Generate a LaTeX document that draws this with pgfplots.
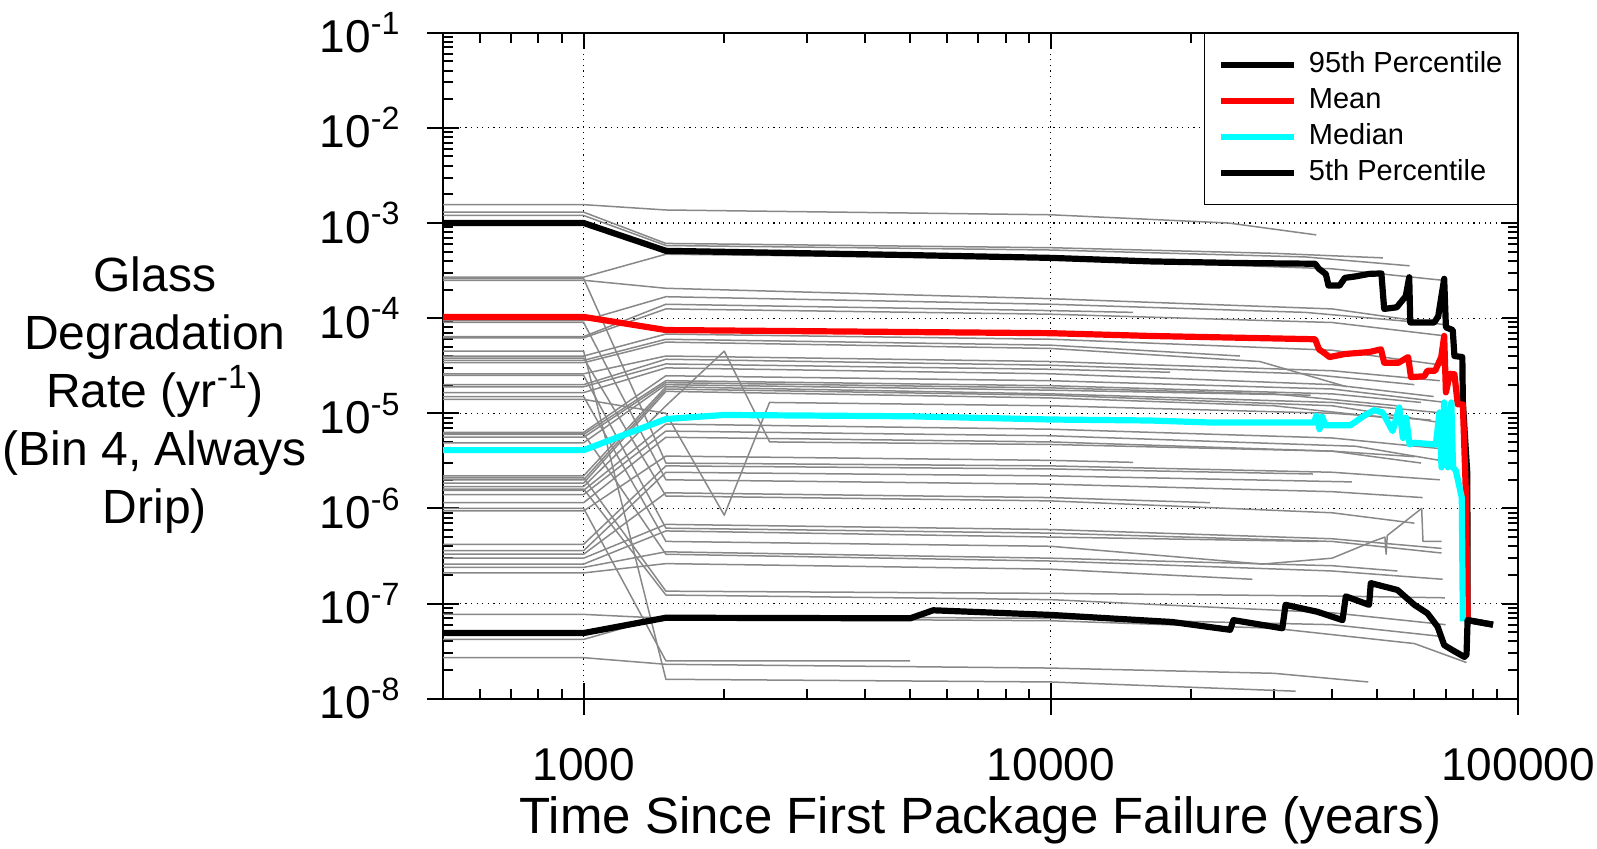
\documentclass[border=0pt]{standalone}
\usepackage{fontspec}
\setmainfont{Liberation Sans}
\usepackage{pgfplots}
\pgfplotsset{compat=1.18}
\definecolor{rgray}{RGB}{136,136,136}
\definecolor{mcyan}{RGB}{0,255,255}
\definecolor{mred}{RGB}{255,0,0}
\begin{document}
\begin{tikzpicture}
\path[use as bounding box] (-221.5pt,-74.65pt) rectangle (577pt,349.35pt);
\begin{axis}[
  at={(0pt,0pt)}, anchor=south west,
  width=537.5pt, height=333pt, scale only axis,
  xmode=log, ymode=log,
  xmin=500, xmax=100000, ymin=1e-8, ymax=1e-1,
  xtick={1000,10000,100000}, xticklabels={1000,10000,100000},
  minor xtick={600,700,800,900,2000,3000,4000,5000,6000,7000,8000,9000,20000,30000,40000,50000,60000,70000,80000,90000},
  ytick={1e-8,1e-7,1e-6,1e-5,1e-4,1e-3,1e-2,1e-1},
  yticklabels={10\textsuperscript{-8},10\textsuperscript{-7},10\textsuperscript{-6},10\textsuperscript{-5},10\textsuperscript{-4},10\textsuperscript{-3},10\textsuperscript{-2},10\textsuperscript{-1}},
  minor ytick={2e-8,3e-8,4e-8,5e-8,6e-8,7e-8,8e-8,9e-8,2e-7,3e-7,4e-7,5e-7,6e-7,7e-7,8e-7,9e-7,2e-6,3e-6,4e-6,5e-6,6e-6,7e-6,8e-6,9e-6,2e-5,3e-5,4e-5,5e-5,6e-5,7e-5,8e-5,9e-5,2e-4,3e-4,4e-4,5e-4,6e-4,7e-4,8e-4,9e-4,2e-3,3e-3,4e-3,5e-3,6e-3,7e-3,8e-3,9e-3,2e-2,3e-2,4e-2,5e-2,6e-2,7e-2,8e-2,9e-2},
  extra x ticks={1000,10000,100000}, extra x tick labels={},
  extra y ticks={1e-8,1e-7,1e-6,1e-5,1e-4,1e-3,1e-2,1e-1}, extra y tick labels={},
  extra tick style={tick align=outside, major tick length=8pt, grid=none, xtick pos=bottom, ytick pos=left},
  tick align=inside, major tick length=8pt, minor tick length=5pt,
  every tick/.style={black, line width=1pt},
  axis line style={black, line width=1.2pt},
  grid=major,
  major grid style={black, line width=0.6pt, dash pattern=on 0.6pt off 2.2pt},
  xticklabel style={font=\fontsize{23}{27}\selectfont, anchor=base, yshift=-40.7pt},
  yticklabel style={font=\fontsize{23}{27}\selectfont, anchor=east, inner sep=0pt, xshift=-21pt},
  every axis y label/.style={at={(axis description cs:-0.268,0.4566)}, anchor=center, align=center, font=\fontsize{24}{29}\selectfont},
  ylabel={Glass\\Degradation\\Rate (yr\textsuperscript{-1})\\(Bin 4, Always\\Drip)},
  every axis x label/.style={at={(axis description cs:0.5,0)}, anchor=base, yshift=-67.15pt, font=\fontsize{25.5}{30}\selectfont},
  xlabel={Time Since First Package Failure (years)},
  legend style={at={(1,1)}, anchor=north east, draw=black, line width=0.6pt, fill=white,
    inner xsep=6.5pt, inner ysep=8pt, row sep=2.5pt, column sep=5pt,
    font=\fontsize{14.5}{17}\selectfont,
    nodes={inner sep=1pt, text height=10.5pt, text depth=3pt}},
  legend cell align=left,
  legend image code/.code={\draw[#1] (0pt,0pt) -- (36.5pt,0pt);},
  gl/.style={color=rgray, line width=0.75pt, line join=round, forget plot},
  ml/.style={line width=3.1pt, line join=round},
]
% gray realizations
\addplot[gl] coordinates {(500,1.56e-3)(1000,1.56e-3)(1500,1.37e-3)(10000,1.22e-3)(24000,1.0e-3)(37000,7.5e-4)};
\addplot[gl] coordinates {(500,1.3e-3)(1000,1.3e-3)(1500,6.1e-4)(10000,5.5e-4)(30000,4.8e-4)(51400,4.3e-4)};
\addplot[gl] coordinates {(500,1.2e-3)(1000,1.2e-3)(1500,5.8e-4)(10000,5.2e-4)(35000,4.4e-4)(58600,3.55e-4)};
\addplot[gl] coordinates {(500,2.7e-4)(1000,2.7e-4)(1500,4.7e-4)(10000,4.2e-4)(40000,3.3e-4)(69000,2.5e-4)};
\addplot[gl] coordinates {(500,2.5e-4)(1000,2.5e-4)(1500,2.06e-4)(10000,1.6e-4)(40000,1.25e-4)(70000,8.5e-5)};
\addplot[gl] coordinates {(500,9.4e-5)(1000,9.4e-5)(1500,1.68e-4)(10000,1.4e-4)(35000,1.15e-4)(62000,9.0e-5)};
\addplot[gl] coordinates {(500,6.4e-5)(1000,6.4e-5)(1500,1.4e-4)(10000,1.2e-4)(15000,1.15e-4)};
\addplot[gl] coordinates {(500,6.2e-5)(1000,6.2e-5)(1500,1.25e-4)(10000,1.1e-4)(40000,9.0e-5)(70000,6.5e-5)};
\addplot[gl] coordinates {(500,4.0e-5)(1000,4.0e-5)(1500,6.8e-5)(10000,6.0e-5)(40000,4.6e-5)(69000,3.2e-5)};
\addplot[gl] coordinates {(500,3.6e-5)(1000,3.6e-5)(1500,6.0e-5)(10000,5.2e-5)(25400,4.0e-5)};
\addplot[gl] coordinates {(500,3.4e-5)(1000,3.4e-5)(1500,5.6e-5)(10000,4.8e-5)(28000,3.5e-5)(43000,1.9e-5)};
\addplot[gl] coordinates {(500,2.6e-5)(1000,2.6e-5)(1500,4.0e-5)(10000,3.5e-5)(40000,2.8e-5)(68000,2.2e-5)};
\addplot[gl] coordinates {(500,2.0e-5)(1000,2.0e-5)(1500,3.7e-5)(10000,3.2e-5)(35000,2.6e-5)(60000,2.0e-5)};
\addplot[gl] coordinates {(500,1.9e-5)(1000,1.9e-5)(1500,3.3e-5)(10000,2.9e-5)(18000,2.7e-5)};
\addplot[gl] coordinates {(500,1.65e-5)(1000,1.65e-5)(1500,3.0e-5)(10000,2.6e-5)(40000,2.0e-5)(66000,1.5e-5)};
\addplot[gl] coordinates {(500,1.4e-5)(1000,1.4e-5)(1500,1.0e-5)(2000,8.5e-7)(2500,1.3e-5)(10000,1.2e-5)(40000,1.0e-5)(65000,8.5e-6)};
\addplot[gl] coordinates {(500,6.3e-6)(1000,6.3e-6)(1500,2.48e-5)(10000,2.2e-5)(40000,1.8e-5)(70000,1.3e-5)};
\addplot[gl] coordinates {(500,6.0e-6)(1000,6.0e-6)(1500,2.2e-5)(10000,1.95e-5)(40000,1.6e-5)(62000,1.3e-5)};
\addplot[gl] coordinates {(500,5.6e-6)(1000,5.6e-6)(1500,2.1e-5)(10000,1.85e-5)(30000,1.6e-5)(55000,1.2e-5)};
\addplot[gl] coordinates {(500,4.9e-6)(1000,4.9e-6)(1500,2.0e-5)(10000,1.75e-5)(36000,1.55e-5)};
\addplot[gl] coordinates {(500,2.2e-6)(1000,2.2e-6)(1500,1.9e-5)(10000,1.6e-5)(40000,1.3e-5)(70000,1.0e-5)};
\addplot[gl] coordinates {(500,2.0e-6)(1000,2.0e-6)(1500,1.8e-5)(10000,1.55e-5)(40000,1.2e-5)(68000,8.0e-6)};
\addplot[gl] coordinates {(500,1.85e-6)(1000,1.85e-6)(1500,1.7e-5)(10000,1.45e-5)(30000,1.2e-5)(58000,8.5e-6)};
\addplot[gl] coordinates {(500,1.7e-6)(1000,1.7e-6)(1500,1.2e-5)(2000,4.5e-5)(2500,5.0e-6)(10000,4.7e-6)(40000,4.0e-6)(60000,3.5e-6)};
\addplot[gl] coordinates {(500,1.55e-6)(1000,1.55e-6)(1500,7.7e-6)(10000,6.8e-6)(40000,5.5e-6)(70000,4.2e-6)};
\addplot[gl] coordinates {(500,1.4e-6)(1000,1.4e-6)(1500,6.5e-6)(10000,5.8e-6)(45000,4.5e-6)(68000,3.2e-6)};
\addplot[gl] coordinates {(500,1.15e-6)(1000,1.15e-6)(1500,5.6e-6)(10000,5.0e-6)(40000,4.0e-6)(62000,3.0e-6)};
\addplot[gl] coordinates {(500,9.4e-7)(1000,9.4e-7)(1500,3.55e-6)(10000,3.2e-6)(15000,3.05e-6)};
\addplot[gl] coordinates {(500,2.6e-4)(1000,2.6e-4)(1500,3.0e-6)(10000,2.8e-6)(40000,2.4e-6)(68000,2.0e-6)};
\addplot[gl] coordinates {(500,4.2e-7)(1000,4.2e-7)(1500,2.8e-6)(10000,2.6e-6)(36400,2.3e-6)};
\addplot[gl] coordinates {(500,3.6e-7)(1000,3.6e-7)(1500,2.4e-6)(10000,2.2e-6)(44100,1.9e-6)};
\addplot[gl] coordinates {(500,9.0e-5)(1000,9.0e-5)(1500,2.0e-6)(10000,1.8e-6)(40000,1.5e-6)(62500,1.3e-6)};
\addplot[gl] coordinates {(500,3.3e-7)(1000,3.3e-7)(1500,1.46e-6)(10000,1.3e-6)(21900,1.15e-6)};
\addplot[gl] coordinates {(500,3.8e-5)(1000,3.8e-5)(1500,1.35e-6)(10000,1.2e-6)(40000,9.0e-7)(60000,7.0e-7)};
\addplot[gl] coordinates {(500,3.0e-7)(1000,3.0e-7)(1500,6.8e-7)(10000,6.0e-7)(40000,4.8e-7)(68600,3.8e-7)};
\addplot[gl] coordinates {(500,2.5e-5)(1000,2.5e-5)(1500,6.2e-7)(10000,5.5e-7)(40000,4.5e-7)(68600,3.4e-7)};
\addplot[gl] coordinates {(500,2.6e-7)(1000,2.6e-7)(1500,5.8e-7)(10000,5.0e-7)(37300,4.5e-7)};
\addplot[gl] coordinates {(500,1.5e-5)(1000,1.5e-5)(1500,4.5e-7)(10000,4.0e-7)(28400,2.6e-7)(40000,3.0e-7)(48900,4.5e-7)(51900,5.0e-7)(52200,3.3e-7)(52500,5.2e-7)(62200,1.0e-6)(62600,4.5e-7)(68600,4.5e-7)};
\addplot[gl] coordinates {(500,2.4e-7)(1000,2.4e-7)(1500,3.5e-7)(10000,3.0e-7)(40000,2.5e-7)(55200,2.2e-7)};
\addplot[gl] coordinates {(500,6.1e-6)(1000,6.1e-6)(1500,3.3e-7)(10000,2.8e-7)(40000,2.2e-7)(69000,1.8e-7)};
\addplot[gl] coordinates {(500,2.1e-7)(1000,2.1e-7)(1500,2.63e-7)(10000,2.3e-7)(27000,1.8e-7)};
\addplot[gl] coordinates {(500,2.1e-6)(1000,2.1e-6)(1500,1.35e-7)(10000,1.28e-7)(40000,1.2e-7)(69700,1.15e-7)};
\addplot[gl] coordinates {(500,7.7e-8)(1000,7.7e-8)(1500,7.0e-8)(10000,6.6e-8)(30000,5.5e-8)(60000,3.8e-8)(77600,2.4e-8)};
\addplot[gl] coordinates {(500,1.6e-6)(1000,1.6e-6)(1500,1.23e-7)(10000,1.1e-7)(40000,8.0e-8)(70000,6.0e-8)};
\addplot[gl] coordinates {(500,4.2e-8)(1000,4.2e-8)(1500,7.4e-8)(10000,7.0e-8)(40000,6.0e-8)(69000,4.5e-8)};
\addplot[gl] coordinates {(500,1.0e-6)(1000,1.0e-6)(1500,2.5e-8)(5000,2.5e-8)};
\addplot[gl] coordinates {(500,2.7e-8)(1000,2.7e-8)(1500,2.3e-8)(10000,2.1e-8)(30000,1.85e-8)(47800,1.5e-8)};
\addplot[gl] coordinates {(500,4.5e-5)(1000,4.5e-5)(1500,1.6e-8)(10000,1.5e-8)(33400,1.2e-8)};
% statistics
\addplot[ml, black] coordinates {(500,1e-3)(1000,1e-3)(1500,5.1e-4)(5000,4.6e-4)(10000,4.3e-4)(16300,3.95e-4)(25000,3.8e-4)(36800,3.73e-4)(37500,3.3e-4)(38800,2.9e-4)(39300,2.2e-4)(41500,2.2e-4)(42600,2.65e-4)(45000,2.75e-4)(48000,2.92e-4)(51000,2.95e-4)(51700,1.25e-4)(55000,1.3e-4)(57500,1.7e-4)(58500,2.69e-4)(58800,9.0e-5)(66200,9.0e-5)(67500,1.05e-4)(69500,2.59e-4)(70100,8.0e-5)(72500,7.5e-5)(73100,4.0e-5)(76000,3.9e-5)(76200,1.3e-5)(77900,2.3e-6)(78000,6.7e-8)(88400,6.0e-8)};
\addlegendentry{95th Percentile}
\addplot[ml, mred] coordinates {(500,1.03e-4)(1000,1.03e-4)(1500,7.5e-5)(10000,6.95e-5)(16300,6.5e-5)(36800,6.0e-5)(37500,4.7e-5)(38500,4.3e-5)(39500,3.9e-5)(42600,4.2e-5)(48000,4.4e-5)(50900,4.7e-5)(51700,3.4e-5)(55500,3.4e-5)(58200,3.9e-5)(59000,2.4e-5)(63000,2.45e-5)(64000,2.8e-5)(66500,2.8e-5)(68500,3.9e-5)(69500,6.5e-5)(70100,1.66e-5)(71500,2.6e-5)(73100,2.57e-5)(74300,1.24e-5)(76200,1.24e-5)(77400,1.34e-6)(78000,6.7e-8)};
\addlegendentry{Mean}
\addplot[ml, mcyan] coordinates {(500,4.1e-6)(1000,4.1e-6)(1500,8.7e-6)(2000,9.6e-6)(5000,9.3e-6)(10000,8.6e-6)(16300,8.4e-6)(21900,8.0e-6)(36600,8.0e-6)(37000,9.4e-6)(37600,6.8e-6)(38100,9.2e-6)(38700,7.5e-6)(43800,7.5e-6)(46800,9.4e-6)(49200,1.08e-5)(51300,1.02e-5)(53900,6.5e-6)(55700,1.15e-5)(56700,5.5e-6)(57600,9.0e-6)(58600,4.7e-6)(60000,4.9e-6)(66700,4.7e-6)(67900,1.02e-5)(68600,2.7e-6)(69500,1.3e-5)(70800,2.7e-6)(72000,1.3e-5)(72600,2.7e-6)(73600,2.5e-6)(75800,1.3e-6)(76200,6.5e-8)};
\addlegendentry{Median}
\addplot[ml, black] coordinates {(500,4.9e-8)(1000,4.9e-8)(1500,7.1e-8)(5000,7.0e-8)(5600,8.5e-8)(10000,7.6e-8)(18200,6.4e-8)(24200,5.3e-8)(24600,6.7e-8)(31300,5.5e-8)(31800,9.7e-8)(37200,8.2e-8)(42100,6.7e-8)(42800,1.19e-7)(48000,9.7e-8)(48400,1.64e-7)(55200,1.39e-7)(60000,9.7e-8)(64000,7.9e-8)(67300,5.7e-8)(69500,3.66e-8)(72400,3.24e-8)(76800,2.75e-8)(77600,2.9e-8)(78000,6.7e-8)(88400,6.0e-8)};
\addlegendentry{5th Percentile}
\end{axis}
\end{tikzpicture}
\end{document}
